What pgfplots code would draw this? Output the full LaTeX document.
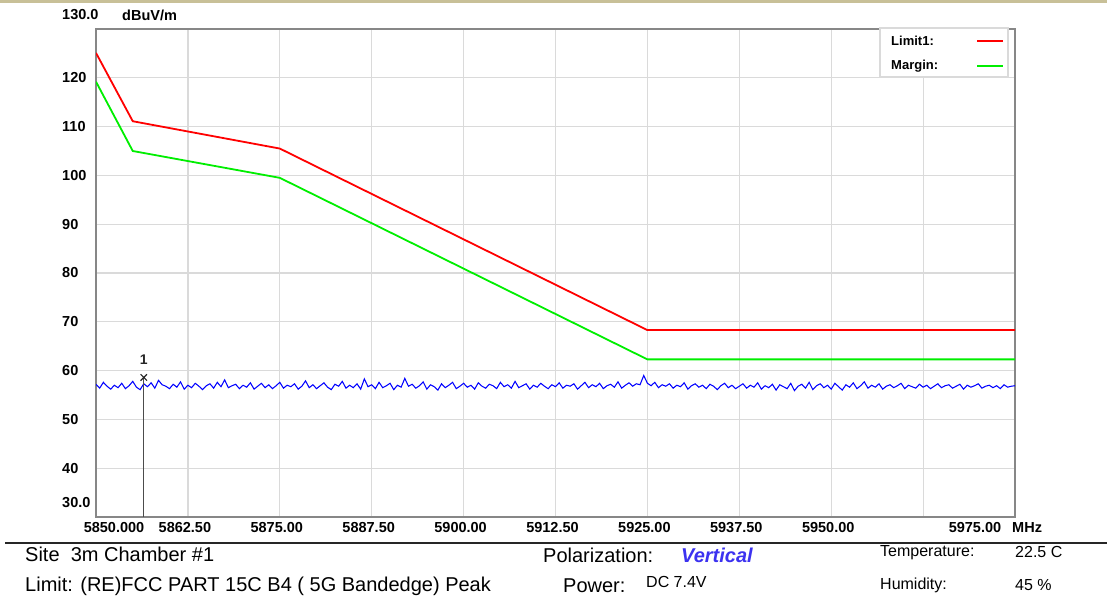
\documentclass[border=0pt]{standalone}
\usepackage{fontspec}
\setmainfont{Liberation Sans}
\usepackage{pgfplots}
\pgfplotsset{compat=1.18}
\usepackage{pgfplotstable}
\definecolor{beige}{RGB}{200,192,152}
\definecolor{bordergray}{RGB}{135,135,135}
\definecolor{gridgray}{RGB}{218,218,218}
\definecolor{limred}{RGB}{255,0,0}
\definecolor{margreen}{RGB}{0,238,0}
\definecolor{noiseblue}{RGB}{0,0,255}
\definecolor{vertblue}{RGB}{60,50,240}
\newcommand{\tickf}{\bfseries\fontsize{14.5}{15}\selectfont}
\newcommand{\mainf}{\fontsize{20}{24}\selectfont}
\newcommand{\smallf}{\fontsize{16}{19}\selectfont}

\pgfplotstableread[row sep=\\]{
y\\
57.2\\56.4\\57.6\\56.8\\56.2\\57.0\\56.5\\57.4\\56.3\\56.9\\57.8\\56.6\\56.1\\57.3\\56.7\\57.5\\56.4\\58.0\\57.1\\56.8\\56.3\\57.2\\56.6\\57.7\\56.2\\
57.0\\56.5\\57.4\\56.8\\56.1\\56.9\\57.3\\56.4\\57.6\\56.7\\58.1\\56.5\\56.9\\57.2\\56.3\\57.0\\56.6\\57.5\\56.2\\56.8\\57.4\\56.5\\57.1\\56.3\\56.9\\
57.6\\56.4\\57.0\\56.7\\57.3\\56.2\\56.8\\57.9\\56.5\\57.1\\56.3\\56.9\\57.5\\56.6\\56.1\\57.2\\56.8\\57.8\\56.4\\57.0\\56.5\\57.3\\56.2\\58.3\\56.7\\
57.1\\56.3\\57.6\\56.5\\56.9\\57.4\\56.1\\57.0\\56.6\\58.4\\56.8\\57.2\\56.4\\56.9\\57.7\\56.2\\57.1\\56.7\\56.0\\57.3\\56.5\\57.0\\57.6\\56.3\\56.8\\
57.4\\56.6\\57.0\\56.2\\57.5\\56.8\\56.4\\57.2\\56.9\\56.3\\57.6\\56.7\\57.1\\56.4\\57.8\\56.5\\56.9\\57.3\\56.2\\57.0\\56.6\\57.4\\56.8\\56.3\\57.1\\
56.7\\57.5\\56.4\\57.0\\56.8\\57.3\\56.2\\56.9\\57.6\\56.5\\57.1\\56.7\\57.4\\56.3\\56.9\\57.2\\56.6\\57.7\\56.4\\57.0\\57.5\\56.8\\57.3\\57.1\\59.0\\
57.4\\56.9\\57.6\\56.5\\57.1\\56.8\\57.3\\56.4\\57.0\\56.7\\57.5\\56.2\\56.9\\57.3\\56.6\\57.0\\56.3\\57.2\\56.8\\56.1\\56.9\\57.4\\56.5\\57.0\\56.3\\
56.8\\57.3\\56.4\\57.0\\56.6\\57.5\\56.2\\56.9\\56.5\\57.2\\56.0\\57.1\\56.7\\56.3\\57.4\\55.9\\56.8\\57.2\\56.4\\57.6\\56.1\\56.9\\57.3\\56.5\\57.0\\
56.2\\57.4\\56.7\\56.0\\57.1\\56.6\\57.5\\56.3\\56.9\\57.7\\56.4\\57.0\\56.6\\57.3\\56.2\\56.8\\57.1\\56.5\\56.9\\57.4\\56.3\\57.0\\56.7\\56.4\\57.2\\
56.6\\57.0\\56.3\\56.8\\57.3\\56.5\\56.9\\57.1\\56.4\\56.8\\57.2\\56.2\\57.0\\56.6\\56.9\\57.3\\56.4\\56.8\\57.0\\56.5\\56.9\\56.3\\57.1\\56.6\\56.8\\
56.9\\
}\noisetable

\begin{document}
\begin{tikzpicture}
\useasboundingbox (0pt,0pt) rectangle (1107pt,600pt);
\fill[beige] (0pt,597pt) rectangle (1107pt,600pt);
\begin{axis}[
  at={(96pt,83pt)}, anchor=south west,
  scale only axis, width=919pt, height=488pt,
  xmin=5850, xmax=5975, ymin=30, ymax=130,
  axis line style={draw=bordergray, line width=1.8pt},
  grid=major,
  grid style={draw=gridgray, line width=1.2pt},
  major tick length=0pt,
  xtick={5850,5862.5,5875,5887.5,5900,5912.5,5925,5937.5,5950,5962.5,5975},
  xticklabels={{},5862.50,5875.00,5887.50,5900.00,5912.50,5925.00,5937.50,5950.00,{},{}},
  ytick={30,40,50,60,70,80,90,100,110,120,130},
  yticklabels={{},40,50,60,70,80,90,100,110,120,{}},
  /pgf/number format/assume math mode=true,
  xticklabel style={font=\tickf, anchor=center, inner sep=0pt, yshift=-11pt, xshift=-3pt},
  yticklabel style={font=\tickf, anchor=west, inner sep=0pt, xshift=-34pt},
  clip=true,
]
\addplot[noiseblue, line width=1.05pt] table[x expr={5850+0.5*\coordindex}, y=y] {\noisetable};
\addplot[margreen, line width=1.8pt] coordinates {(5850,119.2)(5855,105.0)(5875,99.5)(5925,62.3)(5975,62.3)};
\addplot[limred, line width=1.8pt] coordinates {(5850,125.1)(5855,111.1)(5875,105.5)(5925,68.3)(5975,68.3)};
\addplot[black!70, line width=0.9pt] coordinates {(5856.5,58.6)(5856.5,30)};
\addplot[black!85, line width=1.2pt, only marks, mark=x, mark size=4.5pt] coordinates {(5856.5,58.6)};
\node[font=\bfseries\fontsize{14}{14}\selectfont, black!85] at (axis cs:5856.5,62.3) {1};
\end{axis}
% axis end labels
\node[font=\tickf, anchor=west, inner sep=0pt] at (62pt,585pt) {130.0};
\node[font=\tickf, anchor=west, inner sep=0pt] at (122pt,585pt) {dBuV/m};
\node[font=\tickf, anchor=west, inner sep=0pt] at (62pt,97pt) {30.0};
\node[font=\tickf, anchor=center, inner sep=0pt] at (114pt,72pt) {5850.000};
\node[font=\tickf, anchor=center, inner sep=0pt] at (975pt,72pt) {5975.00};
\node[font=\tickf, anchor=west, inner sep=0pt] at (1012pt,72pt) {MHz};
% legend
\draw[draw=gridgray, line width=1.4pt, fill=white] (880pt,523pt) rectangle (1008pt,572pt);
\node[font=\bfseries\fontsize{13}{13}\selectfont, anchor=west, inner sep=0pt] at (891pt,559pt) {Limit1:};
\node[font=\bfseries\fontsize{13}{13}\selectfont, anchor=west, inner sep=0pt] at (891pt,534pt) {Margin:};
\draw[limred, line width=1.8pt] (977pt,559pt) -- (1003pt,559pt);
\draw[margreen, line width=1.8pt] (977pt,534pt) -- (1003pt,534pt);
% separator
\draw[black!85, line width=2pt] (5pt,57pt) -- (1107pt,57pt);
% info text
\node[font=\mainf, anchor=west, inner sep=0pt] at (25pt,46pt) {Site\ \ 3m Chamber \#1};
\node[font=\mainf, anchor=west, inner sep=0pt] at (25pt,14pt) {Limit: (RE)FCC PART 15C B4 ( 5G Bandedge) Peak};
\node[font=\mainf, anchor=west, inner sep=0pt] at (543pt,45pt) {Polarization:};
\node[font=\mainf\bfseries\itshape, text=vertblue, anchor=west, inner sep=0pt] at (681pt,45pt) {Vertical};
\node[font=\mainf, anchor=west, inner sep=0pt] at (563pt,14pt) {Power:};
\node[font=\smallf, anchor=west, inner sep=0pt] at (646pt,18pt) {DC 7.4V};
\node[font=\smallf, anchor=west, inner sep=0pt] at (880pt,47.5pt) {Temperature:};
\node[font=\smallf, anchor=west, inner sep=0pt] at (1015pt,48pt) {22.5 C};
\node[font=\smallf, anchor=west, inner sep=0pt] at (880pt,15pt) {Humidity:};
\node[font=\smallf, anchor=west, inner sep=0pt] at (1015pt,15pt) {45 \%};
\end{tikzpicture}
\end{document}
